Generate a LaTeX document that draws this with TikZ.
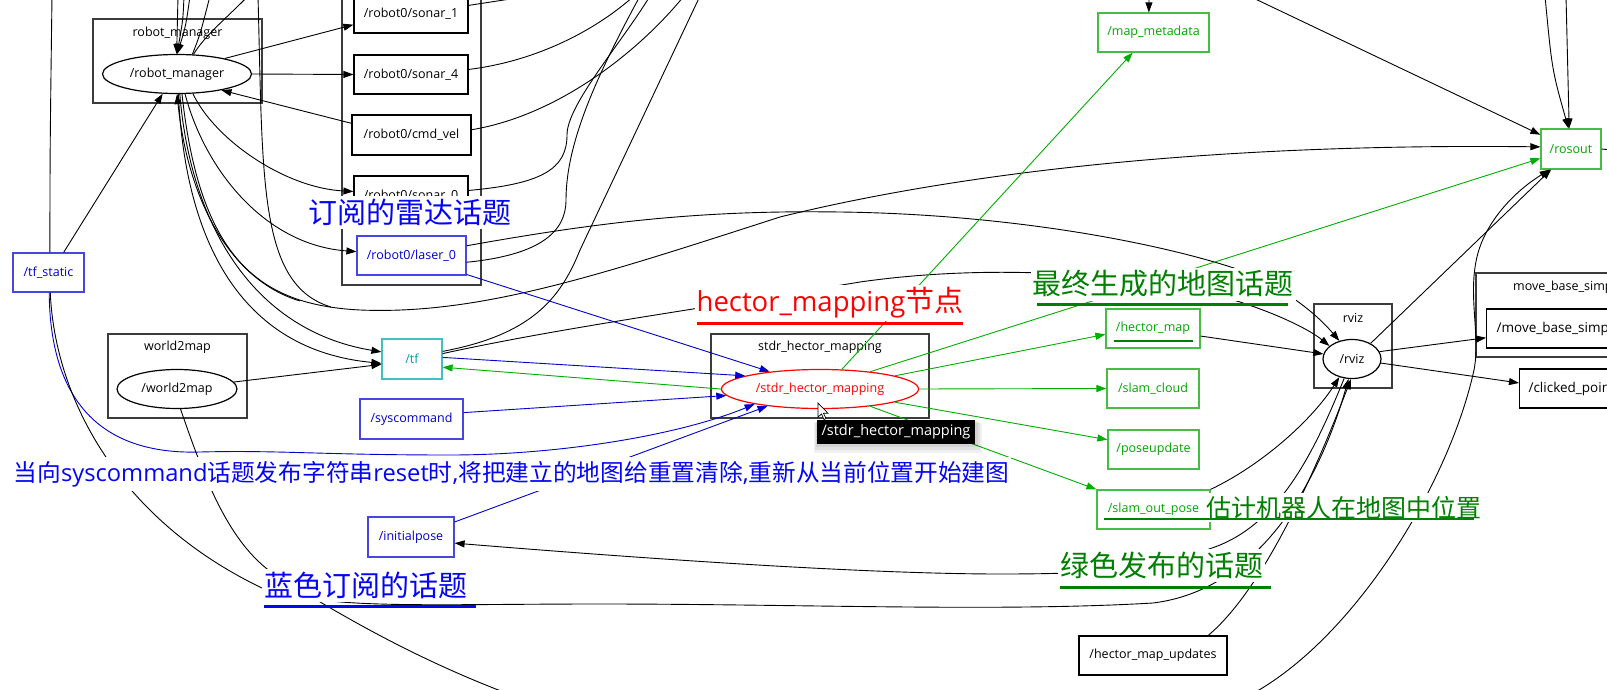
\documentclass[tikz,border=0pt]{standalone}
\usepackage{fontspec}
\setmainfont{Open Sans}
\newfontfamily\cjk{Noto Sans CJK SC}
\usetikzlibrary{shapes.geometric,arrows.meta}
\definecolor{nblue}{RGB}{0,0,200}
\definecolor{nblueb}{RGB}{70,70,225}
\definecolor{eblue}{RGB}{0,0,205}
\definecolor{ngreen}{RGB}{0,165,0}
\definecolor{ngreenb}{RGB}{70,190,70}
\definecolor{egreen}{RGB}{0,175,0}
\definecolor{nteal}{RGB}{0,160,160}
\definecolor{ntealb}{RGB}{70,190,190}
\definecolor{agreen}{RGB}{0,128,0}
\definecolor{ablue}{RGB}{5,5,245}
\definecolor{ared}{RGB}{255,0,0}
\definecolor{clc}{RGB}{60,60,60}
\newcommand\myfs[1]{\fontsize{#1}{#1}\selectfont}
\begin{document}
\begin{tikzpicture}[x=1pt,y=-1pt,
 topic/.style={draw=black, rectangle, fill=white, line width=1.2pt, inner sep=0pt, font=\myfs{12.5}},
 btopic/.style={topic, draw=nblueb, text=nblue},
 gtopic/.style={topic, draw=ngreenb, text=ngreen},
 nodeel/.style={draw=black, ellipse, fill=white, line width=1.2pt, inner sep=0pt, font=\myfs{12.5}},
 clus/.style={draw=clc, line width=1.2pt, inner sep=0pt},
 clab/.style={font=\myfs{12.5}, inner sep=0pt},
 ln/.style={line width=0.9pt},
 ar/.style={ln, -{Triangle[length=10pt,width=7pt]}},
 bar/.style={ar, draw=eblue},
 gar/.style={ar, draw=egreen},
 ann/.style={fill=white, inner xsep=2pt, inner ysep=3pt},
 uline/.style={line width=3pt},
]
\useasboundingbox (0,0) rectangle (1607,690);
\clip (0,0) rectangle (1607,690);
\fill[white] (0,0) rectangle (1607,690);

% clusters
\node[clus, minimum width=169pt, minimum height=84pt] (cRM) at (177.5,61) {};
\node[clus, minimum width=139pt, minimum height=295pt] (cR0) at (411.5,137.5) {};
\node[clus, minimum width=139pt, minimum height=84pt] (cW2) at (177.5,376) {};
\node[clus, minimum width=218pt, minimum height=84pt] (cSH) at (820,376) {};
\node[clus, minimum width=78pt, minimum height=84pt] (cRV) at (1353,346) {};
\node[clus, minimum width=224pt, minimum height=84pt] (cMB) at (1588,315) {};
\node[clab] (lRM) at (177.5,33) {robot\_manager};
\node[clab] (lW2) at (177.5,347.5) {world2map};
\node[clab] (lSH) at (820,347.5) {stdr\_hector\_mapping};
\node[clab] (lRV) at (1353,317.5) {rviz};
\node[clab, anchor=west] (lMB) at (1513,287.5) {move\_base\_simple};

% node ellipses
\node[nodeel, minimum width=149pt, minimum height=39pt] (rm) at (177,74) {/robot\_manager};
\node[nodeel, minimum width=120pt, minimum height=39pt] (w2m) at (177,389) {/world2map};
\node[nodeel, draw=ared, text=ared, minimum width=197pt, minimum height=39pt] (sh) at (820,389) {/stdr\_hector\_mapping};
\node[nodeel, minimum width=58pt, minimum height=39pt] (rv) at (1352,359) {/rviz};

% topics
\node[topic, minimum width=114pt, minimum height=39pt] (s1) at (411,13.5) {/robot0/sonar\_1};
\node[topic, minimum width=114pt, minimum height=39pt] (s4) at (411,74.5) {/robot0/sonar\_4};
\node[topic, minimum width=119pt, minimum height=40pt] (cv) at (411.5,135) {/robot0/cmd\_vel};
\node[topic, minimum width=114pt, minimum height=39pt] (s0) at (411,195.5) {/robot0/sonar\_0};
\node[btopic, minimum width=109pt, minimum height=39pt] (l0) at (411.5,255.5) {/robot0/laser\_0};
\node[btopic, minimum width=71pt, minimum height=39pt] (ts) at (48.5,272.5) {/tf\_static};
\node[topic, draw=ntealb, text=nteal, minimum width=60pt, minimum height=40pt] (tf) at (412,359) {/tf};
\node[btopic, minimum width=103pt, minimum height=40pt] (sc) at (411.5,419) {/syscommand};
\node[btopic, minimum width=86pt, minimum height=40pt] (ip) at (411,537) {/initialpose};
\node[gtopic, minimum width=111pt, minimum height=39pt] (mm) at (1153.5,32.5) {/map\_metadata};
\node[gtopic, minimum width=60pt, minimum height=40pt] (ro) at (1571,149) {/rosout};
\node[gtopic, minimum width=94pt, minimum height=39pt] (hm) at (1153,328.5) {/hector\_map};
\node[gtopic, minimum width=92pt, minimum height=39pt] (scl) at (1153,388.5) {/slam\_cloud};
\node[gtopic, minimum width=91pt, minimum height=39pt] (pu) at (1153.5,449.5) {/poseupdate};
\node[gtopic, minimum width=113pt, minimum height=39pt] (sop) at (1153.5,509.5) {/slam\_out\_pose};
\node[topic, minimum width=148pt, minimum height=39pt] (hmu) at (1153,655.5) {/hector\_map\_updates};
\node[topic, anchor=west, minimum height=39pt, inner xsep=10pt, font=\myfs{13.5}] (mg) at (1486,328.5) {/move\_base\_simple/goal};
\node[topic, anchor=west, minimum height=39pt, inner xsep=9pt, font=\myfs{13.5}] (cp) at (1519,388.5) {/clicked\_point};

% off-picture ends
\coordinate (a0) at (52,-4);
\coordinate (a1) at (178,-4);
\coordinate (a2) at (184,-4);
\coordinate (a3) at (190,-4);
\coordinate (a4) at (210,-4);
\coordinate (a5) at (248,-4);
\coordinate (a6) at (258,-4);
\coordinate (b1) at (530,-4);
\coordinate (b2) at (634,-4);
\coordinate (b3) at (684,-4);
\coordinate (b4) at (650,-4);
\coordinate (b5) at (640,-4);
\coordinate (b6) at (700,-4);
\coordinate (c1) at (1545,-4);
\coordinate (c2) at (1566,-4);
\coordinate (c3) at (1249,-4);
\coordinate (c4) at (1612,150);
\coordinate (c5) at (1149,-4);
\coordinate (j1) at (300,301);

% black edges, left part
\draw[ar] (a1) -- (rm.91);
\draw[ar] (a2) .. controls (183,20) .. (rm.90);
\draw[ar] (a3) .. controls (186,25) .. (rm.89);
\draw[ln] (rm.52) .. controls (200,35) .. (a4);
\draw[ln] (rm.50) .. controls (205,35) and (230,15) .. (a5);
\draw[ar] (rm.18) -- (s1.191);
\draw[ar] (rm.east) -- (s4.west);
\draw[ar] (cv.169) -- (rm.-20);
\draw[ar] (rm.-51) .. controls (215,140) and (285,188) .. (s0.176);
\draw[ar] (rm.-68) .. controls (205,170) and (265,245) .. (l0.176);
\draw[ln] (ts.86) .. controls (50,150) .. (a0);
\draw[ar] (ts.53) -- (rm.-126);
\draw[ar] (rm.-82) .. controls (190,220) and (250,330) .. (tf.167);
\draw[ar] (rm.-86) .. controls (185,240) and (240,350) .. (tf.188);
\draw[ar] (j1) .. controls (230,280) and (188,200) .. (rm.-90);
\draw[ar] (rm.-76) .. controls (200,260) and (260,305) .. (360,310) .. controls (480,315) and (600,275) .. (780,217) .. controls (950,175) and (1200,143) .. (ro.176);
\draw[ln] (a6) .. controls (263,180) and (258,285) .. (331,307);
\draw[ar] (w2m.7) -- (tf.190);
\draw[ln] (s1.8) -- (b1);
\draw[ln] (s4.5) .. controls (530,62) and (590,35) .. (b2);
\draw[ln] (cv.5) .. controls (560,115) and (640,50) .. (b3);
\draw[ln] (s0.5) .. controls (540,184) and (567,170) .. (567,135) .. controls (567,105) and (620,45) .. (b4);
\draw[ln] (l0.-7) .. controls (540,255) and (566,232) .. (566,200) .. controls (566,140) and (600,70) .. (b5);
\draw[ln] (tf.14) .. controls (530,335) and (560,300) .. (580,250) -- (b6);
\draw[ar] (tf.10) .. controls (560,328) and (680,312) .. (860,282) .. controls (1000,262) and (1150,275) .. (1240,302) .. controls (1280,315) and (1310,330) .. (rv.150);
\draw[ar] (l0.10) .. controls (600,222) and (700,210) .. (840,212) .. controls (1000,214) and (1150,240) .. (1240,270) .. controls (1290,290) and (1320,318) .. (rv.125);

% blue edges
\draw[bar] (l0.-19) -- (sh.161);
\draw[bar] (tf.3) -- (sh.170);
\draw[bar] (sc.7) -- (sh.184);
\draw[bar] (ts.-88) .. controls (50,400) and (100,455) .. (200,452) .. controls (280,450) and (320,455) .. (450,455) .. controls (560,455) and (680,435) .. (sh.-167);
\draw[bar] (ip.19) -- (sh.-162);

% green edges
\draw[gar] (sh.42) -- (mm.-136);
\draw[gar] (sh.19) -- (ro.197);
\draw[gar] (sh.10) -- (hm.187);
\draw[gar] (sh.east) -- (scl.west);
\draw[gar] (sh.-10) -- (pu.168);
\draw[gar] (sh.-19) -- (sop.north west);
\draw[gar] (sh.west) -- (tf.-15);

% right part
\draw[ar] (hm.-9) -- (rv.170);
\draw[ar] (rv.15) -- (mg.186);
\draw[ar] (rv.-8) -- (cp.174);
\draw[ar] (rv.40) -- (ro.-134);
\draw[ar] (c1) .. controls (1552,70) .. (ro.97);
\draw[ar] (c2) -- (ro.95);
\draw[ar] (c3) -- (ro.155);
\draw[ln] (ro.east) -- (c4);
\draw[ar] (c5) -- (mm.103);
\draw[ar] (ts.-85) .. controls (55,400) and (120,520) .. (262,588) .. controls (330,610) and (420,604) .. (600,604) .. controls (800,604) and (1000,612) .. (1153,603) .. controls (1260,590) and (1320,480) .. (rv.-100);
\draw[ar] (rv.-112) .. controls (1315,450) and (1280,525) .. (1212,548) .. controls (1150,570) and (1100,574) .. (1000,574) .. controls (850,574) and (600,555) .. (ip.-8);
\draw[ar] (hmu.20) .. controls (1262,590) and (1312,480) .. (rv.-93);
\draw[ar] (sop.north east) .. controls (1262,465) and (1312,420) .. (rv.-125);
\draw[ar] (w2m.-80) .. controls (205,480) and (230,548) .. (280,578) .. controls (340,614) and (430,670) .. (560,712) .. controls (800,790) and (1150,760) .. (1259,690) .. controls (1360,630) and (1450,480) .. (1474,370) .. controls (1482,330) and (1462,280) .. (1485,235) .. controls (1500,205) and (1525,185) .. (ro.-136);

% annotations
\node[ann, text=ablue] (tRadar) at (410,212.5) {\cjk\myfs{29}订阅的雷达话题};
\node[ann, text=ared] (tHector) at (830,303) {\myfs{27.5}hector\_mapping{\cjk\myfs{29}节点}};
\draw[uline, ared] (697,323) -- (963,323);
\node[ann, text=agreen] (tFinal) at (1163,284) {\cjk\myfs{29}最终生成的地图话题};
\draw[uline, agreen] (1037,304) -- (1288,304);
\node[ann, text=ablue, inner ysep=4pt] (tReset) at (511.5,474) {\myfs{23.7}{\cjk 当向}syscommand{\cjk 话题发布字符串}reset{\cjk 时},{\cjk 将把建立的地图给重置清除},{\cjk 重新从当前位置开始建图}};
\node[ann, text=ablue] (tBlue) at (365.5,585.5) {\cjk\myfs{29}蓝色订阅的话题};
\draw[uline, ablue] (264,606) -- (476,606);
\node[ann, text=agreen, inner xsep=1pt] (tEst) at (1343.5,507.5) {\cjk\myfs{25}估计机器人在地图中位置};
\draw[line width=2pt, agreen] (1104,519) -- (1474,519);
\node[ann, text=agreen] (tGreen) at (1161.5,565.5) {\cjk\myfs{29}绿色发布的话题};
\draw[uline, agreen] (1060,587) -- (1271,587);
\draw[line width=2pt, agreen] (1114,341) -- (1193,341);

% tooltip and cursor
\fill[black, opacity=0.06] (814,423) rectangle (982,453);
\fill[black, opacity=0.06] (815,422) rectangle (980,450);
\fill[black, opacity=0.06] (816,421) rectangle (978,447);
\node[fill=black, text=white, minimum width=158pt, minimum height=24pt, inner sep=0pt, font=\myfs{14.5}] (tip) at (896,432) {/stdr\_hector\_mapping};
\filldraw[fill=white, draw=black, line width=0.7pt] (818,403) -- (818,417) -- (821.5,414) -- (824,419.5) -- (826,418.5) -- (823.5,413.3) -- (828,413.3) -- cycle;
\end{tikzpicture}
\end{document}
